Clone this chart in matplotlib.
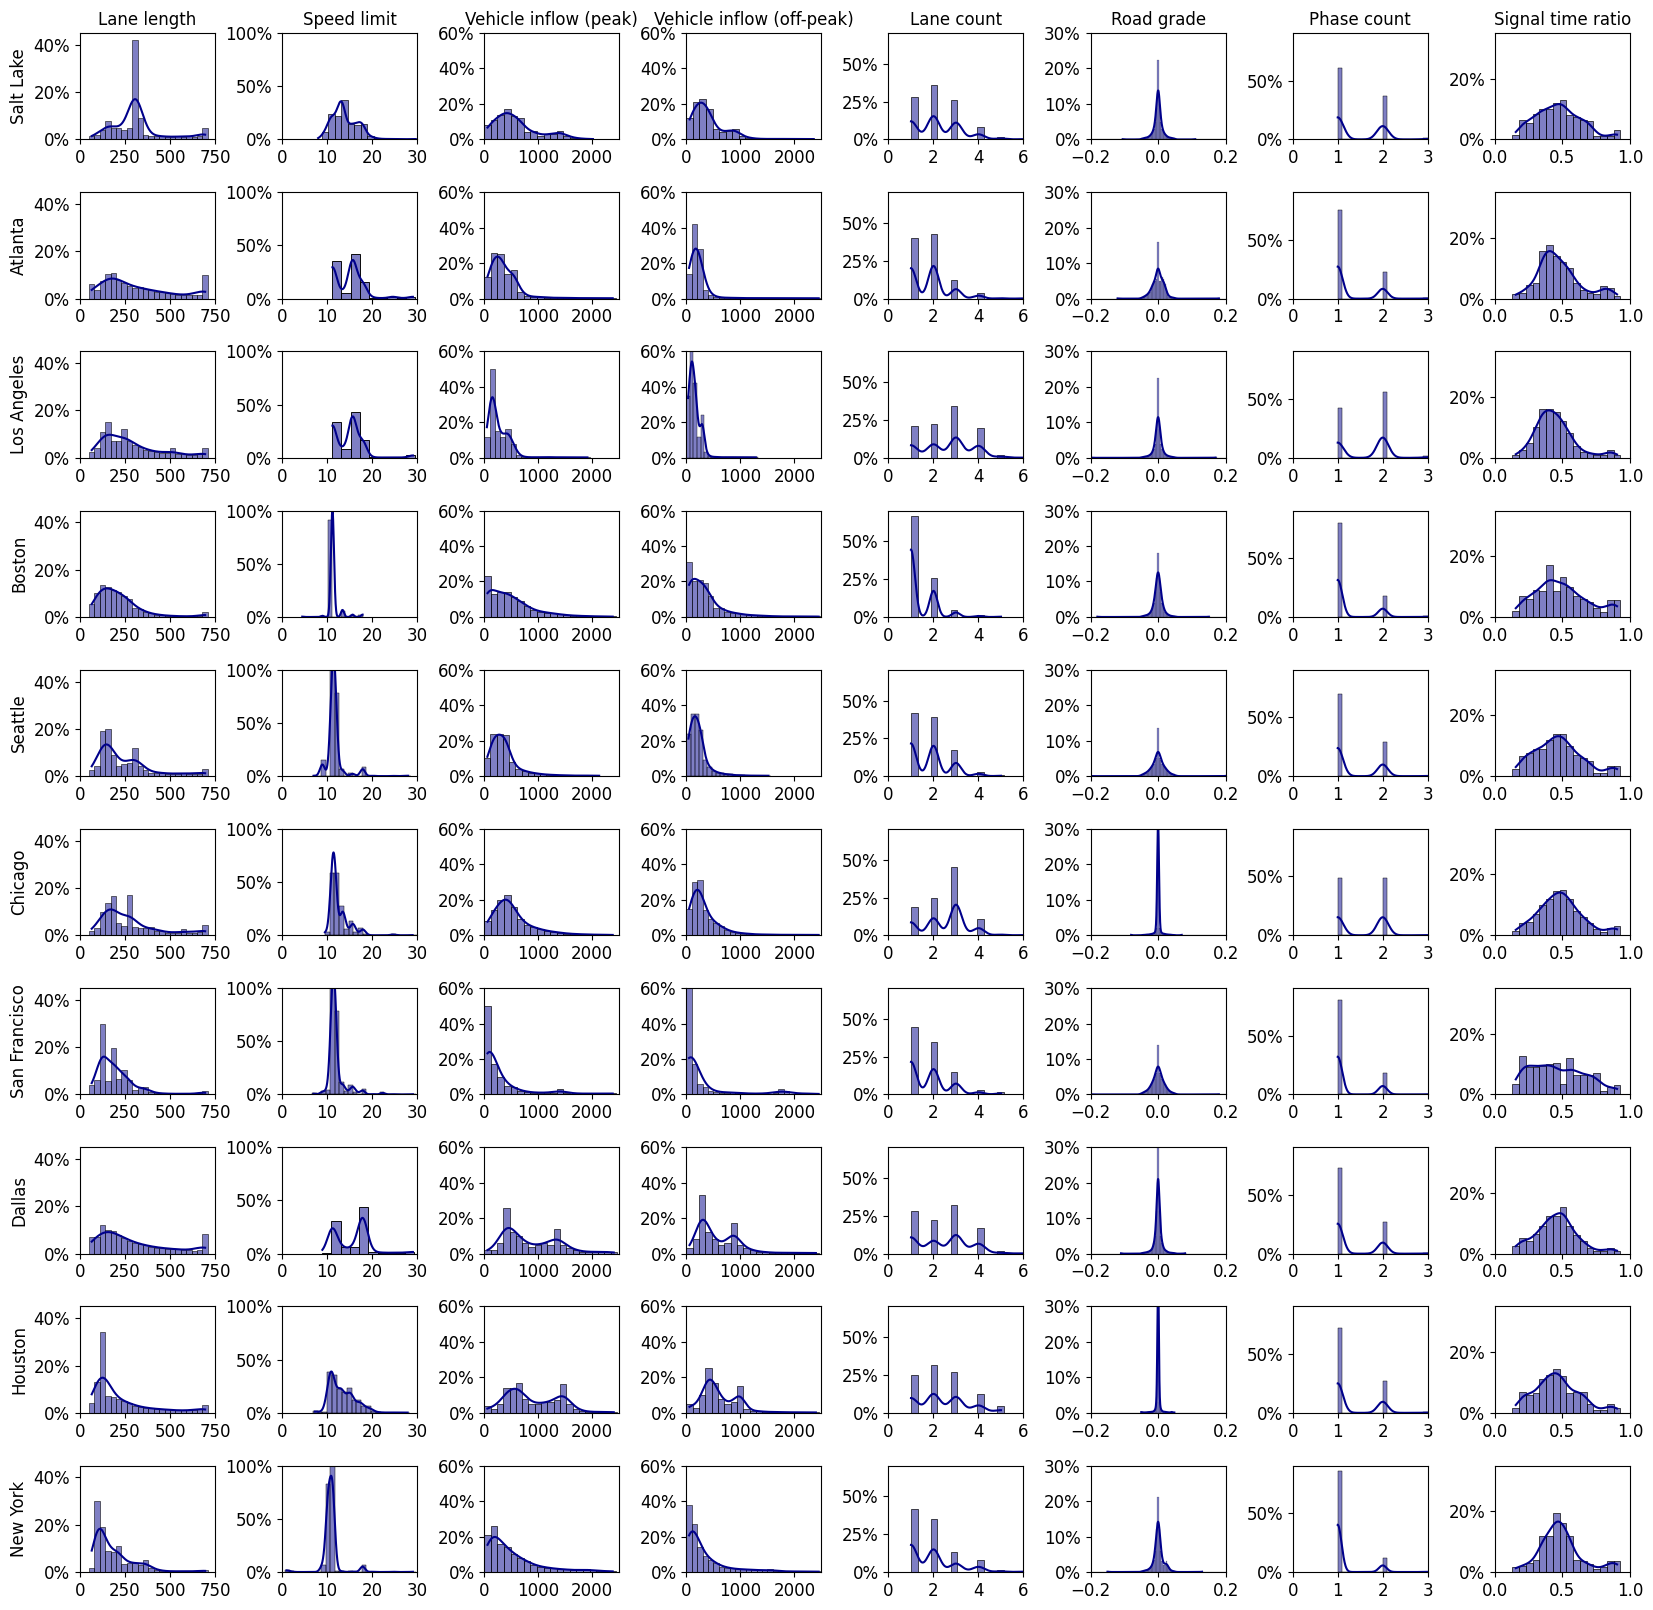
import numpy as np
import matplotlib.pyplot as plt
import seaborn as sns
from matplotlib.ticker import PercentFormatter

plt.rcParams['font.family'] = ['DejaVu Sans']
plt.rcParams['xtick.labelsize'] = 12
plt.rcParams['ytick.labelsize'] = 12

cities = ['Salt Lake', 'Atlanta', 'Los Angeles', 'Boston', 'Seattle',
          'Chicago', 'San Francisco', 'Dallas', 'Houston', 'New York']
features = ['Lane length', 'Speed limit', 'Vehicle inflow (peak)',
            'Vehicle inflow (off-peak)', 'Lane count', 'Road grade',
            'Phase count', 'Signal time ratio']

# ---- lane length (m), bins of 30 m starting at 50 m, share in % ----
lane_length_start, lane_length_step = 50, 30
lane_length = {
    'Salt Lake': [1.5, 2, 4, 8, 5, 5, 4, 5, 42, 9, 2, 1.5, 1.5, 1.5, 1, 1, 1.5, 1, 1.5, 1, 1.5, 5],
    'Atlanta': [6, 3.5, 7.5, 10.5, 11, 8, 6.5, 5.5, 4.5, 5, 4, 3.5, 3, 3, 2.5, 2, 1.5, 1.5, 1.5, 1.5, 1.5, 10],
    'Los Angeles': [2.5, 4, 11, 15, 7, 7, 12, 7, 5.5, 4.5, 3.5, 3, 2.5, 2, 2, 4, 1.5, 1.5, 1, 1, 1.5, 4],
    'Boston': [5.5, 10, 13.5, 12.5, 11.5, 10.5, 9, 7.5, 4, 3.5, 2, 1.5, 1, 0.8, 0.5, 0.5, 0.3, 0.3, 0.3, 0.3, 0.3, 2],
    'Seattle': [2.5, 4.5, 19, 20, 9, 4.5, 5, 5.5, 12, 4.5, 2.5, 1.5, 1.5, 1.5, 1, 1, 1, 1.5, 1, 1, 1, 3],
    'Chicago': [2, 3, 10, 13.5, 16.5, 5, 4, 17, 3.5, 3, 3, 3.5, 2, 2, 1, 1, 1, 2.5, 1, 1, 1.5, 4.5],
    'San Francisco': [4, 6, 30, 5.5, 19.5, 6.5, 10.5, 6, 2, 3, 3, 1, 0.5, 0.5, 0.3, 0.3, 0.3, 0.3, 0.3, 0.3, 0.5, 1.5],
    'Dallas': [7, 7, 12, 10, 9.5, 8, 6.5, 5.5, 4.5, 4, 3.5, 3, 2.5, 2.5, 2, 2, 2, 1.5, 1.5, 1, 1.5, 8.5],
    'Houston': [4, 13, 34, 7, 6.5, 6, 5, 4, 3, 2.5, 2, 2, 1.5, 1.5, 1.5, 1, 1, 1, 1, 1, 1.5, 3.5],
    'New York': [1.5, 30, 19, 9, 8.5, 11, 3.5, 4, 4, 3, 5, 1.5, 1, 0.5, 0.3, 0.3, 0.3, 0.3, 0.3, 0.3, 0.3, 1],
}

# ---- speed limit (m/s): bins (first edge, width, count), speeds and share in % ----
speed_bins = {
    'Salt Lake': (7.3, 1.45, 16), 'Atlanta': (11.1, 2.05, 9), 'Los Angeles': (11.1, 2.05, 9),
    'Boston': (4.47, 0.96, 14), 'Seattle': (6.7, 1.0, 22), 'Chicago': (9.5, 1.05, 20),
    'San Francisco': (6.7, 1.0, 23), 'Dallas': (8.9, 2.05, 10), 'Houston': (6.8, 1.08, 20),
    'New York': (0.7, 1.0, 29),
}
speed_values = {
    'Salt Lake': [8.0, 9.5, 10.9, 12.4, 13.4, 15.3, 16.7, 17.9, 19.6, 21.0, 22.5, 24.0, 25.4, 26.8, 28.3, 29.7],
    'Atlanta': [11.18, 13.41, 15.65, 17.88, 20.12, 22.35, 24.59, 26.82, 29.06],
    'Los Angeles': [11.18, 13.41, 15.65, 17.88, 20.12, 22.35, 24.59, 26.82, 29.06],
    'Boston': [4.47, 8.94, 11.18, 13.41, 15.65, 17.88],
    'Seattle': [7.0, 8.94, 11.18, 11.75, 13.41, 15.65, 17.88, 20.12, 22.35, 24.59, 26.82, 28.0],
    'Chicago': [9.5, 11.18, 11.65, 13.41, 14.2, 15.65, 16.3, 17.88, 18.5, 24.59, 29.0],
    'San Francisco': [7.0, 8.94, 10.0, 11.18, 11.75, 13.41, 14.5, 15.65, 16.5, 17.88, 20.12, 22.35, 24.59, 29.06],
    'Dallas': [8.94, 11.18, 13.41, 15.65, 17.88, 20.12, 22.35, 24.59, 26.82, 29.06],
    'Houston': [7.3, 8.4, 9.5, 10.6, 11.18, 12.7, 13.41, 14.9, 15.65, 17.1, 17.88, 19.2, 20.12, 21.4,
                22.35, 23.6, 24.59, 25.7, 26.82, 27.9],
    'New York': [1.0, 2.0, 8.94, 10.2, 11.18, 12.5, 13.41, 15.65, 17.88, 20.12, 24.59, 29.06],
}
speed_share = {
    'Salt Lake': [0.5, 7, 24, 22, 37, 15, 14, 15, 3, 1, 0.5, 0.5, 0.3, 0.3, 0.3, 0.5],
    'Atlanta': [35, 5, 42, 16, 1, 0.5, 2, 0.5, 2],
    'Los Angeles': [34, 8, 43, 17, 0.5, 0.3, 0.3, 0.3, 2.5],
    'Boston': [0.3, 1, 91, 6, 2, 2],
    'Seattle': [0.5, 15, 100, 78, 7, 3, 9, 0.5, 0.3, 0.3, 0.3, 0.5],
    'Chicago': [3, 59, 59, 28, 6, 13, 3, 7, 1, 1, 0.3],
    'San Francisco': [1, 3, 4, 100, 78, 12, 3, 9, 2, 5, 0.5, 2, 0.3, 0.3],
    'Dallas': [1, 31, 6, 6, 44, 2, 1, 1, 1, 2],
    'Houston': [2, 0.5, 1, 38, 36, 22, 20, 23, 12, 12, 6, 6, 2, 0.5, 0.3, 0.3, 0.3, 0.3, 0.3, 0.3],
    'New York': [2, 0.5, 7, 83, 100, 1, 0.5, 0.5, 7, 0.3, 0.3, 0.3],
}

# ---- vehicle inflow (veh/h), bins start at 0, bin width per city ----
inflow_peak_step = {
    'Salt Lake': 122, 'Atlanta': 122, 'Los Angeles': 98, 'Boston': 122, 'Seattle': 115,
    'Chicago': 122, 'San Francisco': 122, 'Dallas': 117, 'Houston': 117, 'New York': 122,
}
inflow_peak = {
    'Salt Lake': [8, 11, 14, 17, 13, 12, 4, 5, 2, 3, 3, 5, 2, 1, 0.5, 0.3, 0.3],
    'Atlanta': [12, 26, 25, 14, 16, 4, 1.5, 1, 1, 0.5, 0.5, 0.5, 0.5, 0.3, 0.3, 0.3, 0.3, 0.3, 0.3, 0.3],
    'Los Angeles': [12, 50, 15, 12, 16, 8, 1.5, 0.5, 0.3, 0.3, 0.3, 0.5, 0.3, 0.3, 0.3, 0.3, 0.3, 0.3, 0.3, 0.3],
    'Boston': [23, 13, 14, 14, 11, 9, 6, 4, 3, 2.5, 2, 1.5, 1, 0.8, 0.6, 0.5, 0.4, 0.3, 0.3, 0.3],
    'Seattle': [10, 24, 24, 23, 8, 4, 3, 2, 1.5, 1, 0.8, 0.6, 0.5, 0.4, 0.3, 0.3, 0.3, 0.3, 0.3],
    'Chicago': [8, 14, 20, 23, 16, 9, 6, 4.5, 3.5, 2.5, 2, 1.5, 1, 0.8, 0.6, 0.5, 0.4, 0.3, 0.3, 0.3],
    'San Francisco': [50, 17, 10, 5, 4, 2, 1.5, 1, 1, 1, 1, 3, 1, 0.5, 0.5, 0.5, 0.5, 0.5, 0.5, 1],
    'Dallas': [2, 2, 6, 26, 12, 10, 6, 4, 5, 6, 5, 14, 5, 3, 2, 1, 1, 1, 1, 1, 1],
    'Houston': [4, 2, 5, 14, 14, 17, 8, 5, 5, 6, 6, 7, 16, 5, 2, 1, 0.5, 0.5, 0.5, 0.5, 0.5],
    'New York': [21, 26, 16, 14, 10, 8, 6, 4, 3, 2.5, 2, 1.5, 1.5, 1, 1, 1.5, 1, 0.5, 0.5, 0.5],
}
inflow_off_step = {
    'Salt Lake': 121, 'Atlanta': 100, 'Los Angeles': 66, 'Boston': 100, 'Seattle': 78,
    'Chicago': 100, 'San Francisco': 100, 'Dallas': 117, 'Houston': 117, 'New York': 100,
}
inflow_off = {
    'Salt Lake': [12, 21, 23, 17, 6, 4, 5, 6, 2, 1, 0.5, 0.3, 0.3, 0.3, 0.3, 0.3, 0.3, 0.3, 0.3, 0.3],
    'Atlanta': [14, 42, 28, 5, 2, 1, 0.5, 0.5, 0.5, 0.3, 0.3, 0.3, 0.3, 0.3, 0.3, 0.3, 0.3,
                0.3, 0.3, 0.3, 0.3, 0.3, 0.3, 0.3, 0.3],
    'Los Angeles': [35, 62, 42, 12, 24, 3, 1, 0.5, 0.5, 0.3, 0.3, 0.3, 0.3, 0.3, 0.3, 0.3, 0.3, 0.3, 0.3, 0.3],
    'Boston': [31, 20, 21, 19, 12, 5, 5, 3, 2.5, 2, 1.5, 1, 1, 0.8, 0.6, 0.5, 0.4,
               0.3, 0.3, 0.3, 0.3, 0.3, 0.3, 0.3, 0.3],
    'Seattle': [24, 35, 35, 26, 9, 5, 3, 2, 1.5, 1, 1, 0.5, 0.5, 0.5, 0.3, 0.3, 0.3, 0.3, 0.3, 0.3],
    'Chicago': [15, 30, 31, 14, 9, 7, 5, 3, 2, 1.5, 1, 1, 0.5, 0.5, 0.5, 0.3, 0.3,
                0.3, 0.3, 0.3, 0.3, 0.3, 0.3, 0.3, 0.3],
    'San Francisco': [60, 17, 6, 4, 2, 1.5, 1, 1, 1.5, 1, 0.5, 0.5, 0.5, 0.5, 0.5, 0.5, 1,
                      3, 2, 0.5, 0.5, 0.5, 0.5, 0.5, 0.5],
    'Dallas': [3, 8, 33, 12, 8, 5, 6, 17, 5, 3, 2, 1, 1, 0.5, 0.5, 0.5, 0.5, 0.5, 0.5, 0.5, 0.5],
    'Houston': [5, 3, 10, 25, 17, 8, 5, 6, 15, 2, 1, 1, 0.5, 0.5, 0.5, 0.3, 0.3, 0.3, 0.3, 0.3, 0.3],
    'New York': [38, 27, 14, 9, 7, 5, 3, 2.5, 2, 1.5, 1.5, 1.5, 1, 1, 1, 1.5, 0.5, 0.5,
                 0.3, 0.3, 0.3, 0.3, 0.3, 0.3, 0.3],
}

# ---- lane count: share (%) of lanes with 1..6 lanes ----
lane_values = [1, 2, 3, 4, 5, 6]
lane_count = {
    'Salt Lake': [28, 36, 26, 8, 1.5, 0.5],
    'Atlanta': [40, 43, 12.5, 4, 0.5, 0.3],
    'Los Angeles': [21, 22.5, 34, 20, 2, 0.3],
    'Boston': [67, 26, 4.5, 1, 0.3],
    'Seattle': [42, 39, 17, 3, 0.5],
    'Chicago': [19, 25, 45, 10.5, 1, 0.3],
    'San Francisco': [45, 35, 15, 3, 1.5],
    'Dallas': [28, 22, 32, 17, 1.5, 0.5],
    'Houston': [25, 32, 27, 12.5, 4.5],
    'New York': [42, 35, 13, 8, 1, 0.5],
}

# ---- road grade: 25 bins of 0.004 centred on 0, plus min / max grade ----
grade_step = 0.004
road_grade = {
    'Salt Lake': [0.3, 0.3, 0.5, 0.5, 0.5, 0.8, 1, 1.5, 2, 3, 5, 9, 22.5, 10, 5, 3, 2, 1.5, 1, 0.8, 0.5, 0.5, 0.5, 0.3, 0.3],
    'Atlanta': [0.3, 0.5, 0.5, 1, 1, 1.5, 2, 3, 4, 5, 5, 5.5, 16, 5, 5, 6, 5.5, 4, 2, 1, 0.5, 0.5, 0.3, 0.3, 0.3],
    'Los Angeles': [0.2, 0.2, 0.3, 0.3, 0.5, 0.5, 0.8, 1, 1.5, 2.5, 4, 8, 22.5, 8, 4, 2.5, 1.5, 1, 0.8, 0.5, 0.5, 0.3, 0.3, 0.2, 0.2],
    'Boston': [0.2, 0.3, 0.3, 0.5, 0.5, 0.8, 1, 1.5, 2.5, 4, 7, 11, 18, 11, 7, 4, 2.5, 1.5, 1, 0.8, 0.5, 0.3, 0.3, 0.2, 0.2],
    'Seattle': [0.5, 0.5, 0.8, 1, 1, 1.5, 2, 2.5, 3, 3.5, 4.5, 5, 13.5, 5, 4.5, 3.5, 3, 2.5, 2, 1.5, 1, 0.8, 0.5, 0.5, 0.5],
    'Chicago': [0.1, 0.1, 0.1, 0.2, 0.2, 0.2, 0.3, 0.3, 0.5, 0.5, 1, 2, 50, 2, 1, 0.5, 0.5, 0.3, 0.3, 0.2, 0.2, 0.2, 0.1, 0.1, 0.1],
    'San Francisco': [0.5, 0.5, 0.8, 1, 1, 1.5, 2, 3, 3.5, 4.5, 5.5, 6, 14, 6, 5.5, 4.5, 3.5, 3, 2, 1.5, 1, 0.8, 0.5, 0.5, 0.5],
    'Dallas': [0.2, 0.2, 0.3, 0.3, 0.5, 0.5, 0.8, 1, 1.5, 3, 5, 12, 32, 12, 5, 3, 1.5, 1, 0.8, 0.5, 0.3, 0.3, 0.2, 0.2, 0.2],
    'Houston': [0.1, 0.1, 0.1, 0.1, 0.2, 0.2, 0.2, 0.3, 0.3, 0.5, 1, 3, 50, 3, 1, 0.5, 0.3, 0.3, 0.2, 0.2, 0.1, 0.1, 0.1, 0.1, 0.1],
    'New York': [0.2, 0.3, 0.3, 0.5, 0.5, 0.8, 1, 1.5, 2, 3.5, 6, 12, 21, 12, 6, 3, 2, 2, 3, 2, 1, 0.5, 0.3, 0.3, 0.2],
}
grade_extent = {
    'Salt Lake': (-0.105, 0.11), 'Atlanta': (-0.12, 0.18), 'Los Angeles': (-0.2, 0.17),
    'Boston': (-0.18, 0.15), 'Seattle': (-0.2, 0.2), 'Chicago': (-0.08, 0.07),
    'San Francisco': (-0.2, 0.18), 'Dallas': (-0.11, 0.08), 'Houston': (-0.05, 0.04),
    'New York': (-0.15, 0.13),
}

# ---- phase count: share (%) of signals with 1, 2, 3 phases ----
phase_values = [1, 2, 3]
phase_count = {
    'Salt Lake': [61, 37, 1.5],
    'Atlanta': [75, 23, 0.5],
    'Los Angeles': [42, 56, 1.5],
    'Boston': [80, 18, 0.5],
    'Seattle': [70, 29, 0.5],
    'Chicago': [49, 49, 0.5],
    'San Francisco': [80, 18, 0.3],
    'Dallas': [73, 27, 0.5],
    'Houston': [72, 27, 0.5],
    'New York': [86, 12, 0.3],
}

# ---- signal time ratio, 16 bins of 0.05 from 0.13 ----
signal_start, signal_step = 0.13, 0.05
signal_ratio = {
    'Salt Lake': [1.5, 6.5, 5.5, 8.5, 10, 10, 12, 13, 8, 7.5, 6.5, 6, 1, 1, 1, 3],
    'Atlanta': [1.5, 2, 4.5, 5, 15.5, 17.5, 14, 12, 10, 5, 3, 2, 1.5, 4, 3.5, 1],
    'Los Angeles': [1, 2.5, 5, 10, 16, 16, 15, 12, 8, 4, 2, 1.5, 1, 1, 2.5, 1],
    'Boston': [2, 7, 6, 9, 8.5, 17, 8.5, 13, 10, 7, 6, 5, 3, 1.5, 5.5, 5.5],
    'Seattle': [2.5, 6.5, 7.5, 9, 9, 12, 14, 14, 10, 7, 6, 5, 1, 1, 3.5, 3.5],
    'Chicago': [1.5, 4, 4.5, 7, 10, 12, 14.5, 15, 12, 8, 6, 4, 2, 1, 2.5, 3],
    'San Francisco': [3.5, 12.5, 9, 9, 9.5, 10, 10.5, 3.5, 12, 6.5, 6.5, 6.5, 7, 1, 2.5, 3],
    'Dallas': [2.5, 5, 4, 6.5, 9, 12.5, 12.5, 15.5, 9, 6, 4, 2, 1, 1, 2, 1],
    'Houston': [1.5, 7, 6, 6.5, 11, 12.5, 14.5, 12, 6.5, 7, 7, 3, 1, 1, 3, 1.5],
    'New York': [1.5, 2, 3, 4, 12, 12, 19.5, 16, 12, 4, 3.5, 2.5, 1, 1.5, 3.5, 3.5],
}

# axis settings per column: xlim, xticks, ylim, yticks, kde bandwidth factor
axis_cfg = [
    ((0, 750), [0, 250, 500, 750], 45, [0, 20, 40], 0.27),
    ((0, 30), [0, 10, 20, 30], 100, [0, 50, 100], 0.27),
    ((0, 2500), [0, 1000, 2000], 60, [0, 20, 40, 60], 0.27),
    ((0, 2500), [0, 1000, 2000], 60, [0, 20, 40, 60], 0.27),
    ((0, 6), [0, 2, 4, 6], 70.5, [0, 25, 50], 0.27),
    ((-0.2, 0.2), [-0.2, 0.0, 0.2], 30, [0, 10, 20, 30], 0.27),
    ((0, 3), [0, 1, 2, 3], 90.3, [0, 50], 0.25),
    ((0, 1), [0.0, 0.5, 1.0], 35, [0, 20], 0.27),
]


def uniform_bins(start, step, heights):
    edges = start + step * np.arange(len(heights) + 1)
    return edges[:-1] + step / 2, edges


def panel_data(j, city):
    if j == 0:
        h = lane_length[city]
        x, edges = uniform_bins(lane_length_start, lane_length_step, h)
    elif j == 1:
        h = speed_share[city]
        x = speed_values[city]
        lo, step, n = speed_bins[city]
        edges = lo + step * np.arange(n + 1)
    elif j == 2:
        h = inflow_peak[city]
        x, edges = uniform_bins(0, inflow_peak_step[city], h)
    elif j == 3:
        h = inflow_off[city]
        x, edges = uniform_bins(0, inflow_off_step[city], h)
    elif j == 4:
        h = lane_count[city]
        x = lane_values[:len(h)]
        edges = np.linspace(1, 6, 18)
    elif j == 5:
        x = list(grade_step * np.arange(-12, 13)) + list(grade_extent[city])
        h = list(road_grade[city]) + [0.2, 0.2]
        edges = grade_step * (np.arange(-51, 51) + 0.5)
    elif j == 6:
        h = phase_count[city]
        x = phase_values
        edges = np.linspace(1, 3, 21)
    else:
        h = signal_ratio[city]
        x, edges = uniform_bins(signal_start, signal_step, h)
    # seaborn compares bins with "auto" when weights are given, so pass a list
    return np.asarray(x, float), np.asarray(h, float), [float(e) for e in edges]


fig, axes = plt.subplots(len(cities), len(features), figsize=(16.53, 16.10), dpi=100)
fig.subplots_adjust(left=0.0484, right=0.986, top=0.9795, bottom=0.0236,
                    wspace=0.497, hspace=0.495)

for i, city in enumerate(cities):
    for j, feat in enumerate(features):
        ax = axes[i, j]
        xlim, xticks, ymax, yticks, bw = axis_cfg[j]
        ax.set_xlim(*xlim)
        x, h, edges = panel_data(j, city)
        # weighted covariance in the KDE is inflated by 1 / (1 - sum p^2);
        # undo it so the bandwidth matches one fitted on the raw samples
        p = h / h.sum()
        bw_eff = bw * np.sqrt(1 - (p ** 2).sum())
        sns.histplot(x=x, weights=h, bins=edges, stat='count', kde=True,
                     color='darkblue', ax=ax,
                     kde_kws={'bw_method': bw_eff, 'gridsize': 800},
                     line_kws={'linewidth': 1.5})
        ax.set_xlim(*xlim)
        ax.set_ylim(0, ymax)
        ax.set_xticks(xticks)
        ax.set_yticks(yticks)
        ax.yaxis.set_major_formatter(PercentFormatter(100, decimals=0))
        ax.set_xlabel('')
        ax.set_ylabel(city if j == 0 else '', fontsize=12)
        if i == 0:
            ax.set_title(feat, fontsize=12)

fig.savefig('out.png', dpi=100)
